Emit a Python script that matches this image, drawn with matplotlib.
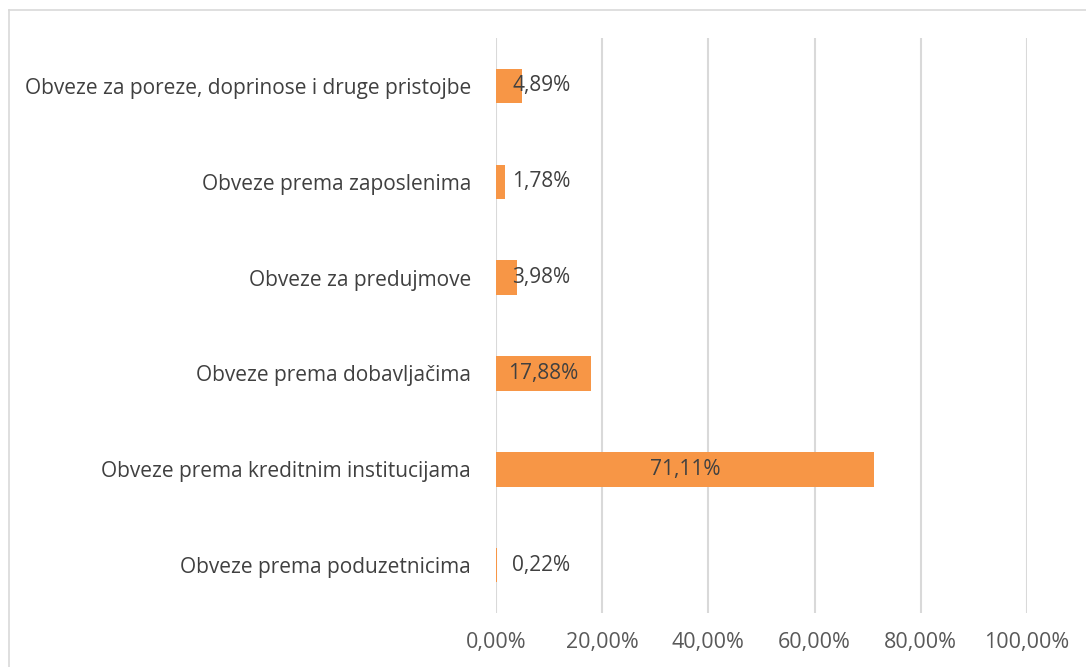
import matplotlib
matplotlib.use("Agg")
import matplotlib.pyplot as plt
from matplotlib.lines import Line2D

# data (top to bottom as shown)
categories = [
    "Obveze za poreze, doprinose i druge pristojbe",
    "Obveze prema zaposlenima",
    "Obveze za predujmove",
    "Obveze prema dobavljačima",
    "Obveze prema kreditnim institucijama",
    "Obveze prema poduzetnicima",
]
values = [4.89, 1.78, 3.98, 17.88, 71.11, 0.22]
xticks = [0, 20, 40, 60, 80, 100]

plt.rcParams['font.family'] = ['Open Sans', 'DejaVu Sans']

W, H = 1086, 667
fig = plt.figure(figsize=(W / 100, H / 100), dpi=100)
ax = fig.add_axes([496 / W, 1 - 613 / H, (1027 - 496) / W, (613 - 38) / H])

n = len(categories)
ypos = list(range(n))[::-1]
ax.barh(ypos, values, height=0.36, color='#F79646', zorder=3)

ax.set_xlim(0, 100)
ax.set_ylim(-0.5, n - 0.5)
ax.set_xticks(xticks)
ax.set_xticklabels([f"{t:.2f}%".replace('.', ',') for t in xticks])
ax.set_yticks(ypos)
ax.set_yticklabels(categories)

ax.grid(axis='x', color='#D9D9D9', lw=1.5, zorder=0)
for s in ax.spines.values():
    s.set_visible(False)
ax.tick_params(axis='both', length=0, colors='#595959')
ax.tick_params(axis='x', pad=14, labelsize=15.5)
ax.tick_params(axis='y', pad=18, labelsize=15)
for lbl in ax.get_yticklabels():
    lbl.set_color('#404040')

# data labels
for y, v in zip(ypos, values):
    xc = max(v / 2, 8.5)
    ax.text(xc, y, f"{v:.2f}%".replace('.', ','), ha='center', va='center',
            fontsize=15, color='#404040', zorder=4)

# chart border (only top and left visible)
fig.add_artist(Line2D([8.5 / W, 1], [1 - 9.5 / H, 1 - 9.5 / H], color='#D9D9D9', lw=1.2,
                      transform=fig.transFigure))
fig.add_artist(Line2D([8.5 / W, 8.5 / W], [0, 1 - 9.5 / H], color='#D9D9D9', lw=1.2,
                      transform=fig.transFigure))

fig.savefig('out.png', dpi=100)
